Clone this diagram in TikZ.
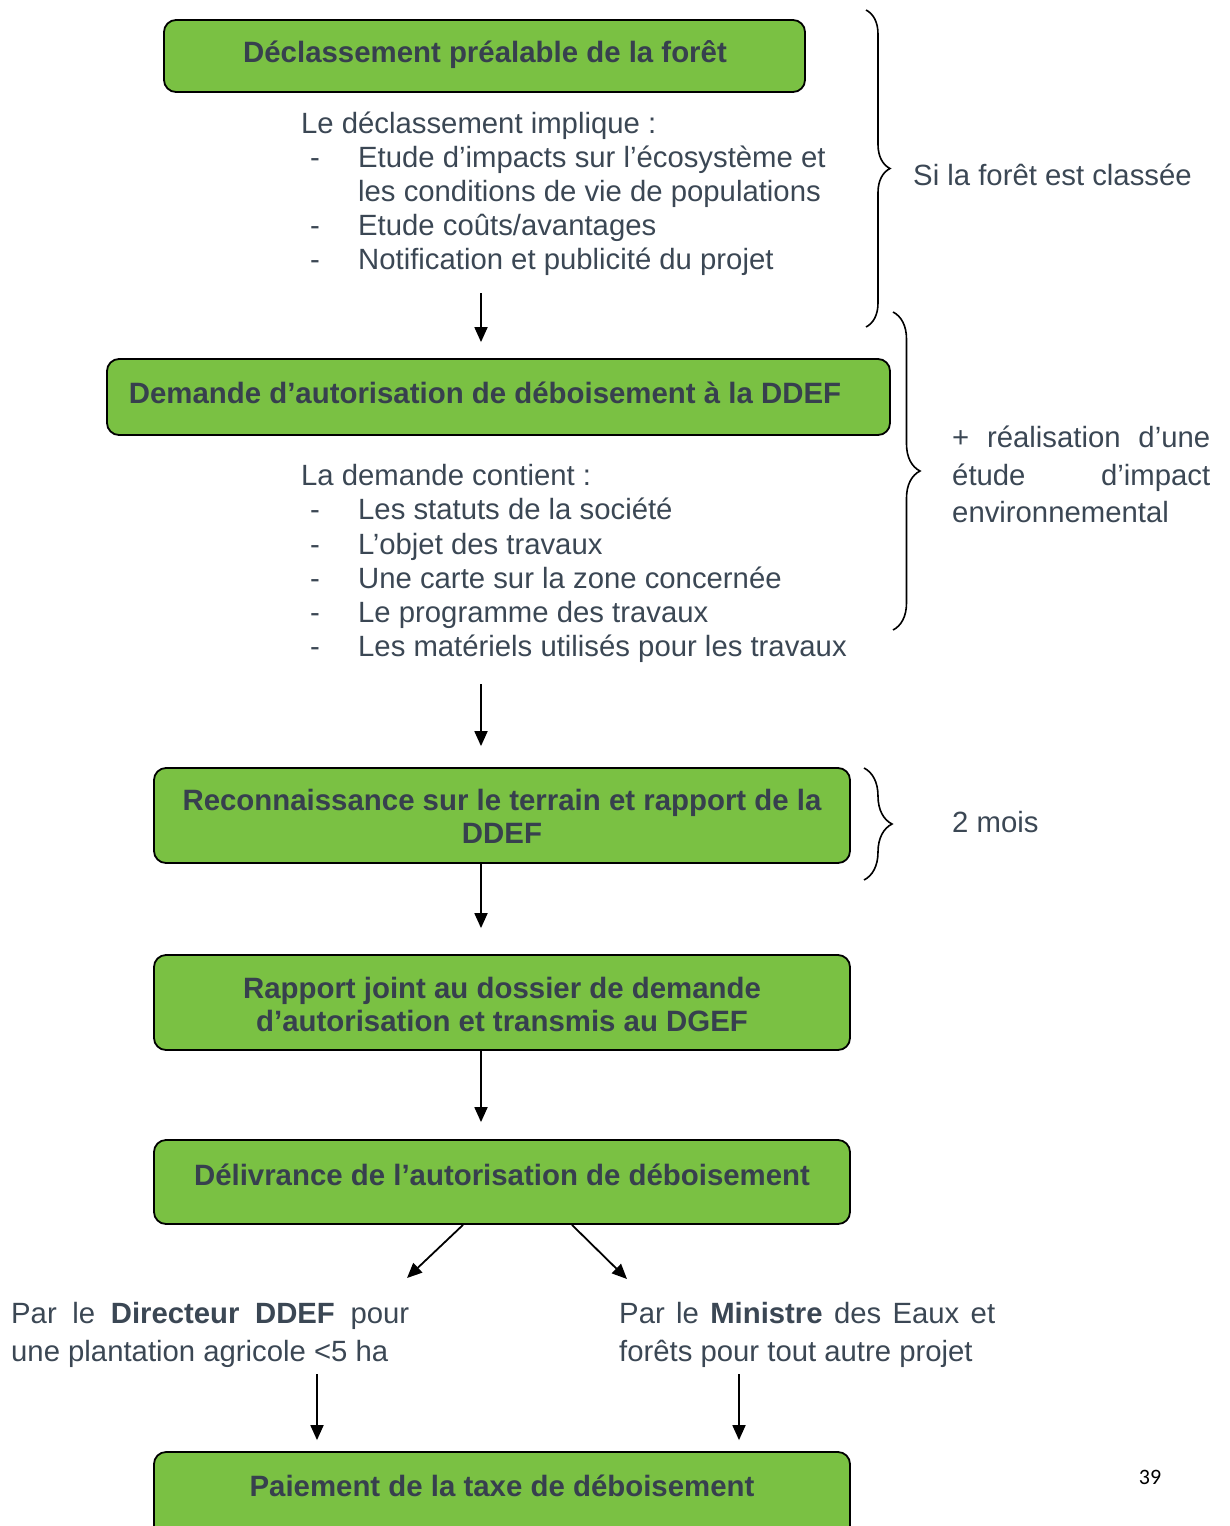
\documentclass[tikz,border=0pt]{standalone}
\usepackage{fontspec}
\setmainfont{Liberation Sans}
\newfontfamily\pagefont{Carlito}
\usetikzlibrary{arrows.meta,decorations.pathreplacing}
\definecolor{boxgreen}{HTML}{7AC143}
\definecolor{boxtxt}{HTML}{37404E}
\definecolor{plaintxt}{HTML}{3B4754}
\begin{document}
\begin{tikzpicture}[x=1pt,y=-1pt,
  box/.style={draw=black, line width=1.8pt, fill=boxgreen, rounded corners=12pt, inner sep=0pt},
  boxtext/.style={font=\fontsize{29.4}{33}\selectfont\bfseries, text=boxtxt, align=center, inner sep=0pt},
  body/.style={font=\fontsize{29.3}{34}\selectfont, text=plaintxt, inner sep=0pt, anchor=base west},
  arr/.style={line width=1.8pt, -{Triangle[length=15pt,width=13pt]}},
  brc/.style={decorate, line width=1.6pt, decoration={brace, amplitude=#1}},
]
\useasboundingbox (0,0) rectangle (1229,1526);

% boxes
\node[box, minimum width=641, minimum height=72] (b1) at (484.5,56) {};
\node[box, minimum width=783, minimum height=76] (b2) at (498.5,397) {};
\node[box, minimum width=696, minimum height=95] (b3) at (502,815.5) {};
\node[box, minimum width=696, minimum height=95] (b4) at (502,1002.5) {};
\node[box, minimum width=696, minimum height=84] (b5) at (502,1182) {};
\node[box, minimum width=696, minimum height=118] (b6) at (502,1511) {};

\node[boxtext] (t1) at (485,55) {Déclassement préalable de la forêt};
\node[boxtext] (t2) at (485,393) {Demande d’autorisation de déboisement à la DDEF};
\node[boxtext] (t3) at (502,816) {Reconnaissance sur le terrain et rapport de la\\DDEF};
\node[boxtext] (t4) at (502,1004) {Rapport joint au dossier de demande\\d’autorisation et transmis au DGEF};
\node[boxtext] (t5) at (502,1175) {Délivrance de l’autorisation de déboisement};
\node[boxtext] (t6) at (502,1486) {Paiement de la taxe de déboisement};

% list 1
\node[body] (l1h) at (301,133) {Le déclassement implique :};
\node[body] (l1d1) at (310,167) {-};
\node[body] (l1a) at (358,167) {Etude d’impacts sur l’écosystème et};
\node[body] (l1b) at (358,201) {les conditions de vie de populations};
\node[body] (l1d2) at (310,235) {-};
\node[body] (l1c) at (358,235) {Etude coûts/avantages};
\node[body] (l1d3) at (310,269) {-};
\node[body] (l1e) at (358,269) {Notification et publicité du projet};

% list 2
\node[body] (l2h) at (301,485) {La demande contient :};
\node[body] (l2d1) at (310,519) {-};
\node[body] (l2a) at (358,519) {Les statuts de la société};
\node[body] (l2d2) at (310,554) {-};
\node[body] (l2b) at (358,554) {L’objet des travaux};
\node[body] (l2d3) at (310,588) {-};
\node[body] (l2c) at (358,588) {Une carte sur la zone concernée};
\node[body] (l2d4) at (310,622) {-};
\node[body] (l2d) at (358,622) {Le programme des travaux};
\node[body] (l2d5) at (310,656) {-};
\node[body] (l2e) at (358,656) {Les matériels utilisés pour les travaux};

% bottom texts
\node[body] (pl1) at (11,1323) {\makebox[398pt][s]{Par le \textbf{Directeur DDEF} pour}};
\node[body] (pl2) at (11,1361) {une plantation agricole <5 ha};
\node[body] (pr1) at (619,1323) {\makebox[376pt][s]{Par le \textbf{Ministre} des Eaux et}};
\node[body] (pr2) at (619,1361) {forêts pour tout autre projet};

% brace labels
\node[body] (s1) at (913,185) {Si la forêt est classée};
\node[body] (s2a) at (952,447) {\makebox[258pt][s]{+ réalisation d’une}};
\node[body] (s2b) at (952,485) {\makebox[258pt][s]{étude d’impact}};
\node[body] (s2c) at (952,522) {environnemental};
\node[body] (s3) at (952,832) {2 mois};

\node[font=\pagefont\fontsize{22}{26}\selectfont, inner sep=0pt] (pg) at (1150,1477) {39};

% arrows
\coordinate (ax) at (481,0);
\coordinate (a1s) at (481,293);
\coordinate (a2s) at (481,684);
\draw[arr, shorten >=16pt] (a1s) -- (ax |- b2.north);
\draw[arr, shorten >=21pt] (a2s) -- (ax |- b3.north);
\draw[arr, shorten >=26pt] (b3.south -| ax) -- (ax |- b4.north);
\draw[arr, shorten >=17pt] (b4.south -| ax) -- (ax |- b5.north);

\coordinate (dl) at (463,0);
\coordinate (dr) at (572,0);
\coordinate (dle) at (407,1278);
\coordinate (dre) at (627,1279);
\draw[arr] (b5.south -| dl) -- (dle);
\draw[arr] (b5.south -| dr) -- (dre);

\coordinate (bl) at (317,1374);
\coordinate (br) at (739,1374);
\draw[arr, shorten >=11pt] (bl) -- (bl |- b6.north);
\draw[arr, shorten >=11pt] (br) -- (br |- b6.north);

% braces
\coordinate (br1a) at (866,10);
\coordinate (br1b) at (866,327);
\coordinate (br2a) at (893,312);
\coordinate (br2b) at (893,630);
\coordinate (br3a) at (864,768);
\coordinate (br3b) at (864,880);
\draw[brc=24pt] (br1a) -- (br1b);
\draw[brc=27pt] (br2a) -- (br2b);
\draw[brc=28pt] (br3a) -- (br3b);
\end{tikzpicture}
\end{document}
